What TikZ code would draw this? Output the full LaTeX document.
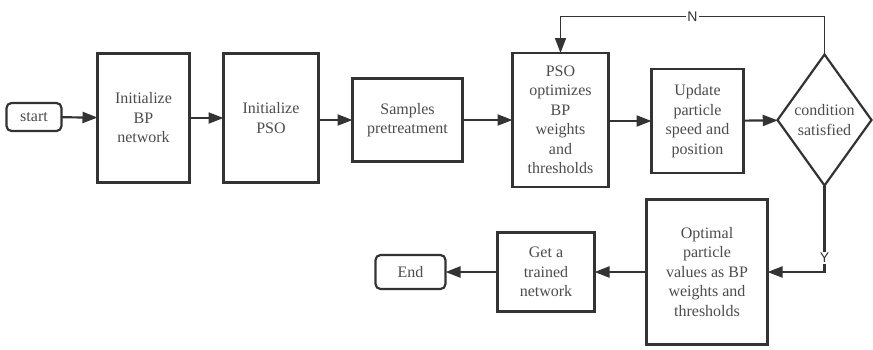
\documentclass[tikz,border=0pt]{standalone}
\usepackage{fontspec}
\setmainfont{Liberation Serif}
\newfontfamily\labelfont{Liberation Sans}
\usetikzlibrary{shapes.geometric,arrows.meta,positioning}

\begin{document}
\begin{tikzpicture}[
    x=1pt, y=1pt,
    font=\fontsize{16}{19.5}\selectfont,
    box/.style={rectangle, draw=black!80, line width=2.2pt, outer sep=0pt, text=black!70, align=center, inner sep=0pt},
    term/.style={box, rounded corners=5pt},
    cond/.style={diamond, shape aspect=0.7, draw=black!80, line width=2.2pt, outer sep=0pt, text=black!70, align=center, inner sep=0pt, minimum width=94pt, minimum height=131pt},
    arrow/.style={-{Triangle[length=15pt,width=11pt]}, line width=2.2pt, draw=black!80},
    loop/.style={-{Triangle[length=15pt,width=11pt]}, line width=1.6pt, draw=black!80},
    tag/.style={fill=white, inner sep=1pt, text=black!80, font=\labelfont\fontsize{14}{16}\selectfont}
]
    \useasboundingbox (0,0) rectangle (873,-349);

    % top row
    \node[term, minimum width=55pt, minimum height=28pt] (start) at (34,-117) {start};
    \node[box, minimum width=92pt, minimum height=129pt, right=36pt of start, yshift=-1pt] (initbp) {Initialize\\BP\\network};
    \node[box, minimum width=95pt, minimum height=129pt, right=34pt of initbp] (initpso) {Initialize\\PSO};
    \node[box, minimum width=110pt, minimum height=83pt, right=34pt of initpso, yshift=-2pt] (samples) {Samples\\pretreatment};
    \node[box, minimum width=96pt, minimum height=134pt, right=50pt of samples] (psoopt) {PSO\\optimizes\\BP\\weights\\and\\thresholds};
    \node[box, minimum width=92pt, minimum height=104pt, right=43pt of psoopt, yshift=-1pt] (update) {Update\\particle\\speed and\\position};
    \node[cond, right=34pt of update, yshift=1pt] (check) {condition\\satisfied};

    % bottom row
    \node[box, minimum width=121pt, minimum height=145pt] (optimal) at (707,-272) {Optimal\\particle\\values as BP\\weights and\\thresholds};
    \node[box, minimum width=97pt, minimum height=79pt, left=52pt of optimal] (trained) {Get a\\trained\\network};
    \node[term, minimum width=70pt, minimum height=34pt, left=52pt of trained] (end) {End};

    \draw[arrow] (start) -- (initbp);
    \draw[arrow] (initbp) -- (initpso);
    \draw[arrow] (initpso.east |- samples) -- (samples);
    \draw[arrow] (samples) -- (psoopt.west |- samples);
    \draw[arrow] (psoopt.east |- update) -- (update);
    \draw[arrow] (update) -- (check);
    \draw[loop] (check.north) -- ++(0,38) -| node[tag, pos=0.25] {N} (psoopt.north);
    \draw[arrow] (check.south) |- node[tag, pos=0.42] {Y} (optimal.east);
    \draw[arrow] (optimal) -- (trained);
    \draw[arrow] (trained) -- (end);
\end{tikzpicture}
\end{document}
